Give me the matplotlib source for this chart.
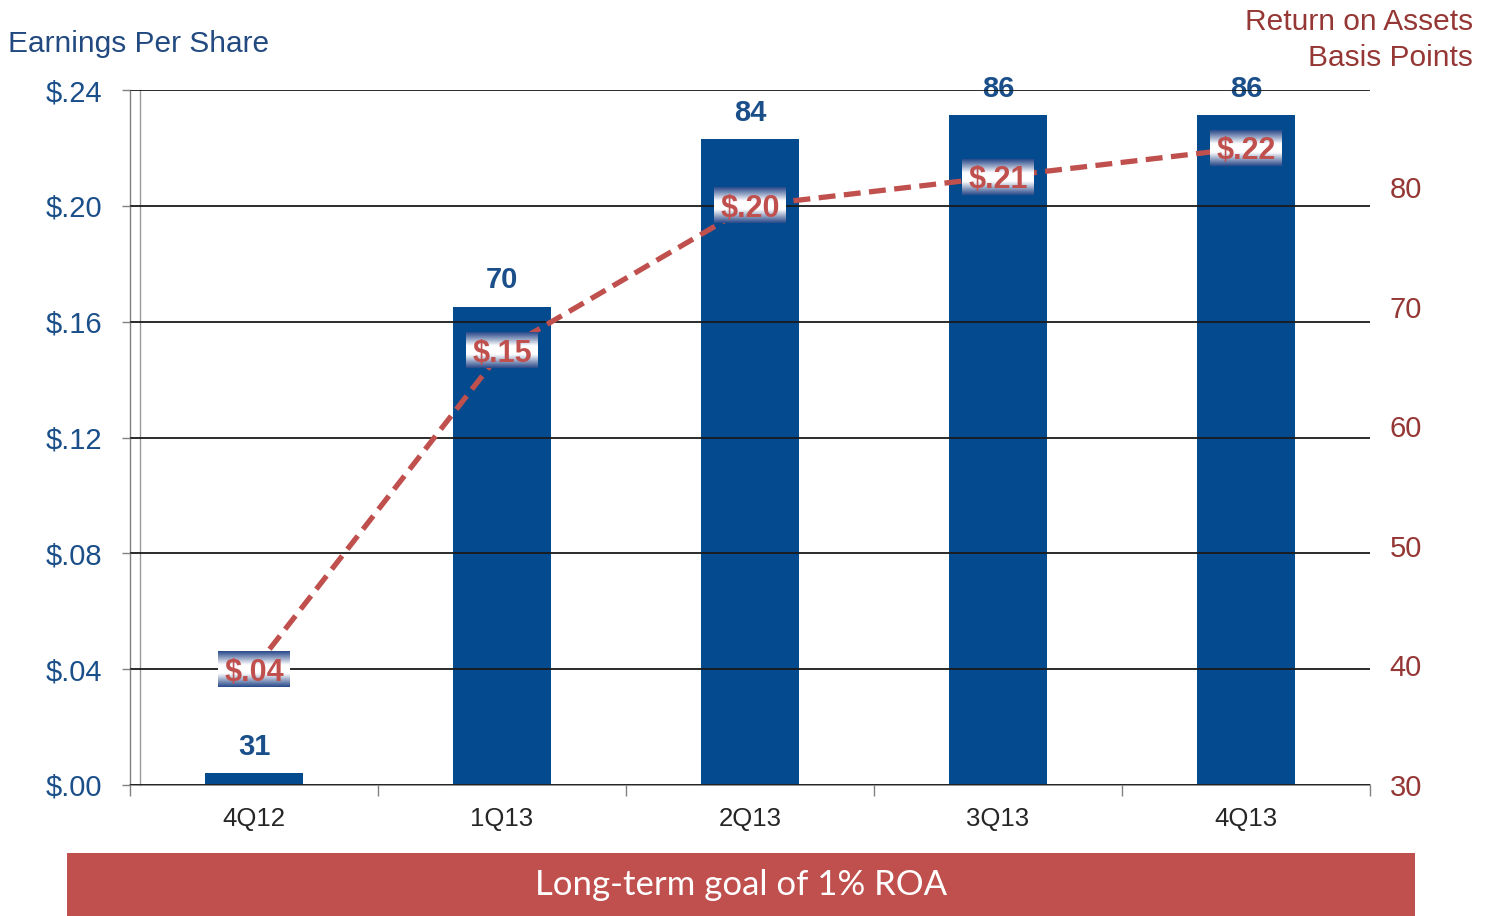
import numpy as np
import matplotlib
matplotlib.use("Agg")
import matplotlib.pyplot as plt
from matplotlib.colors import LinearSegmentedColormap
from matplotlib.patches import Rectangle

# Quarterly data
quarters = ["4Q12", "1Q13", "2Q13", "3Q13", "4Q13"]
roa_bp = [31, 70, 84, 86, 86]                 # return on assets, basis points (bars, right axis)
eps = [0.04, 0.15, 0.20, 0.21, 0.22]           # earnings per share (dashed line, left axis)
eps_labels = ["$.04", "$.15", "$.20", "$.21", "$.22"]
eps_ticks = [0.00, 0.04, 0.08, 0.12, 0.16, 0.20, 0.24]
eps_tick_labels = ["$.00", "$.04", "$.08", "$.12", "$.16", "$.20", "$.24"]
roa_ticks = [30, 40, 50, 60, 70, 80]

BAR_BLUE = "#034A8E"
LABEL_BLUE = "#1B4F8A"
LINE_RED = "#C0504D"
DARK_RED = "#953735"
BANNER_RED = "#C0504D"

plt.rcParams["font.family"] = ["Liberation Sans", "DejaVu Sans"]

fig = plt.figure(figsize=(14.93, 9.16), dpi=100)
W, H = 1493, 916
left, right, top, bottom = 130, 1370, 90, 785
ax = fig.add_axes([left / W, 1 - bottom / H, (right - left) / W, (bottom - top) / H])
ax2 = ax.twinx()
ax.set_zorder(ax2.get_zorder() + 1)
ax.patch.set_visible(False)

x = np.arange(len(quarters))

# Bars: ROA on the right-hand scale
ax2.bar(x, roa_bp, width=0.395, color=BAR_BLUE, zorder=1)
ax2.set_ylim(30, 88.1)
for xi, v in zip(x, roa_bp):
    ax2.annotate(str(v), (xi, v), xytext=(0, 9), textcoords="offset points",
                 ha="center", va="bottom", fontsize=21, fontweight="bold",
                 color=LABEL_BLUE)
ax2.set_yticks(roa_ticks)
ax2.set_yticklabels([str(t) for t in roa_ticks])
ax2.tick_params(axis="y", length=0, pad=14, labelsize=21, labelcolor=DARK_RED)
for s in ax2.spines.values():
    s.set_visible(False)

# Dashed EPS line on the left-hand scale
ax.plot(x, eps, color=LINE_RED, lw=3.8, dashes=(3.2, 1.6), zorder=3,
        solid_capstyle="butt", dash_capstyle="butt")

# Gradient label plates behind the EPS values
cmap = LinearSegmentedColormap.from_list(
    "plate", [(0.0, "#2A4A8A"), (0.38, "#FFFFFF"), (0.62, "#FFFFFF"), (1.0, "#2A4A8A")])
grad = np.linspace(0, 1, 64).reshape(-1, 1)
bw, bh = 0.29, 0.0122
for xi, v, lab in zip(x, eps, eps_labels):
    ax.imshow(grad, cmap=cmap, aspect="auto", interpolation="bicubic",
              extent=(xi - bw / 2, xi + bw / 2, v - bh / 2, v + bh / 2), zorder=4)
    ax.text(xi, v, lab, ha="center", va="center_baseline", fontsize=22,
            fontweight="bold", color=LINE_RED, zorder=5)

ax.set_xlim(-0.5, len(quarters) - 0.5)
ax.set_ylim(0, 0.24)
ax2.set_xlim(-0.5, len(quarters) - 0.5)

ax.set_yticks(eps_ticks)
ax.set_yticklabels(eps_tick_labels)
ax.tick_params(axis="y", direction="out", length=6, width=1, color="#808080",
               pad=14, labelsize=21, labelcolor=LABEL_BLUE)
ax.yaxis.grid(True, color="#1A1A1A", lw=1.3)
ax.set_axisbelow(False)

# Category ticks at the group boundaries, labels at the centres
ax.set_xticks(np.arange(-0.5, len(quarters), 1.0))
ax.set_xticklabels([])
ax.set_xticks(x, minor=True)
ax.set_xticklabels(quarters, minor=True)
ax.tick_params(axis="x", which="major", direction="out", length=8, color="#808080", width=1)
ax.tick_params(axis="x", which="minor", length=0, pad=16, labelsize=18.5, labelcolor="#262626")
ax2.tick_params(axis="x", which="both", length=0, labelbottom=False)

for name in ["top", "right"]:
    ax.spines[name].set_visible(False)
ax.spines["left"].set_color("#808080")
ax.spines["bottom"].set_color("#808080")
ax.spines["left"].set_linewidth(1)
ax.spines["bottom"].set_linewidth(1.2)
ax.plot([10 / (right - left)] * 2, [0, 1], transform=ax.transAxes,
        color="#9A9A9A", lw=1, clip_on=False, zorder=2)

# Axis titles
fig.text(8 / W, 1 - 44 / H, "Earnings Per Share", ha="left", va="center",
         fontsize=21.5, color="#234A80")
fig.text(1473 / W, 1 - 22 / H, "Return on Assets", ha="right", va="center",
         fontsize=21.5, color=DARK_RED)
fig.text(1473 / W, 1 - 58 / H, "Basis Points", ha="right", va="center",
         fontsize=21.5, color=DARK_RED)

# Goal banner
fig.patches.append(Rectangle((67 / W, 0), (1415 - 67) / W, (916 - 853) / H,
                             transform=fig.transFigure, facecolor=BANNER_RED,
                             edgecolor="none", zorder=0))
fig.text(741 / W, 1 - 885 / H, "Long-term goal of 1% ROA", ha="center", va="center",
         fontsize=25, color="white", family=["Lato", "DejaVu Sans"])

fig.savefig("out.png", dpi=100)
